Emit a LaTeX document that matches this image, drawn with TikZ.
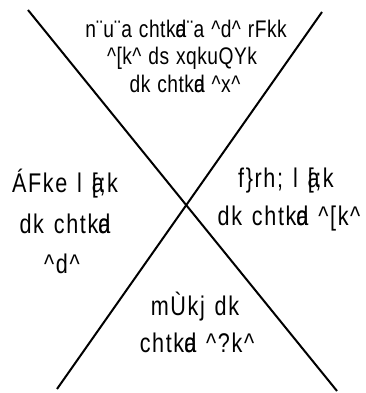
\documentclass[tikz,border=0pt]{standalone}
\usepackage{fontspec}
\setmainfont{Liberation Sans}[FakeStretch=0.8,LetterSpace=6,WordSpace=1.3]
\newfontfamily\topfont{Liberation Sans}[FakeStretch=0.8,LetterSpace=2,WordSpace=1.2]
\newcommand{\ovl}[2]{\rlap{#1}#2}
\begin{document}
\begin{tikzpicture}[x=1pt,y=-1pt,
  txt/.style={anchor=base,inner sep=0pt,font=\fontsize{27}{30}\selectfont},
  toptxt/.style={txt,font=\topfont\fontsize{24}{27}\selectfont},
  cross/.style={line width=2pt}]
\useasboundingbox (0,0) rectangle (365,393);
\coordinate (a1) at (28,10);
\coordinate (a2) at (337,391);
\coordinate (b1) at (322,12);
\coordinate (b2) at (57,389);
\draw[cross] (a1) -- (a2);
\draw[cross] (b1) -- (b2);
% top
\node[toptxt] (t1) at (186,38) {n¨u¨a chtk\ovl{a}{d}¨a \^{}d\^{} rFkk};
\node[toptxt] (t2) at (182,65) {\^{}[k\^{} ds xqkuQYk};
\node[toptxt] (t3) at (185,93) {dk chtk\ovl{a}{d} \^{}x\^{}};
% left
\node[txt] (l1) at (65,192) {ÁFke l \ovl{a}{[};k};
\node[txt] (l2) at (65,233) {dk chtk\ovl{a}{d}};
\node[txt] (l3) at (62,273) {\^{}d\^{}};
% right
\node[txt] (r1) at (286,187) {f\}rh; l \ovl{a}{[};k};
\node[txt] (r2) at (289,225) {dk chtk\ovl{a}{d} \^{}[k\^{}};
% bottom
\node[txt] (m1) at (195,315) {mÙkj dk};
\node[txt] (m2) at (197,352) {chtk\ovl{a}{d} \^{}?k\^{}};
\end{tikzpicture}
\end{document}
